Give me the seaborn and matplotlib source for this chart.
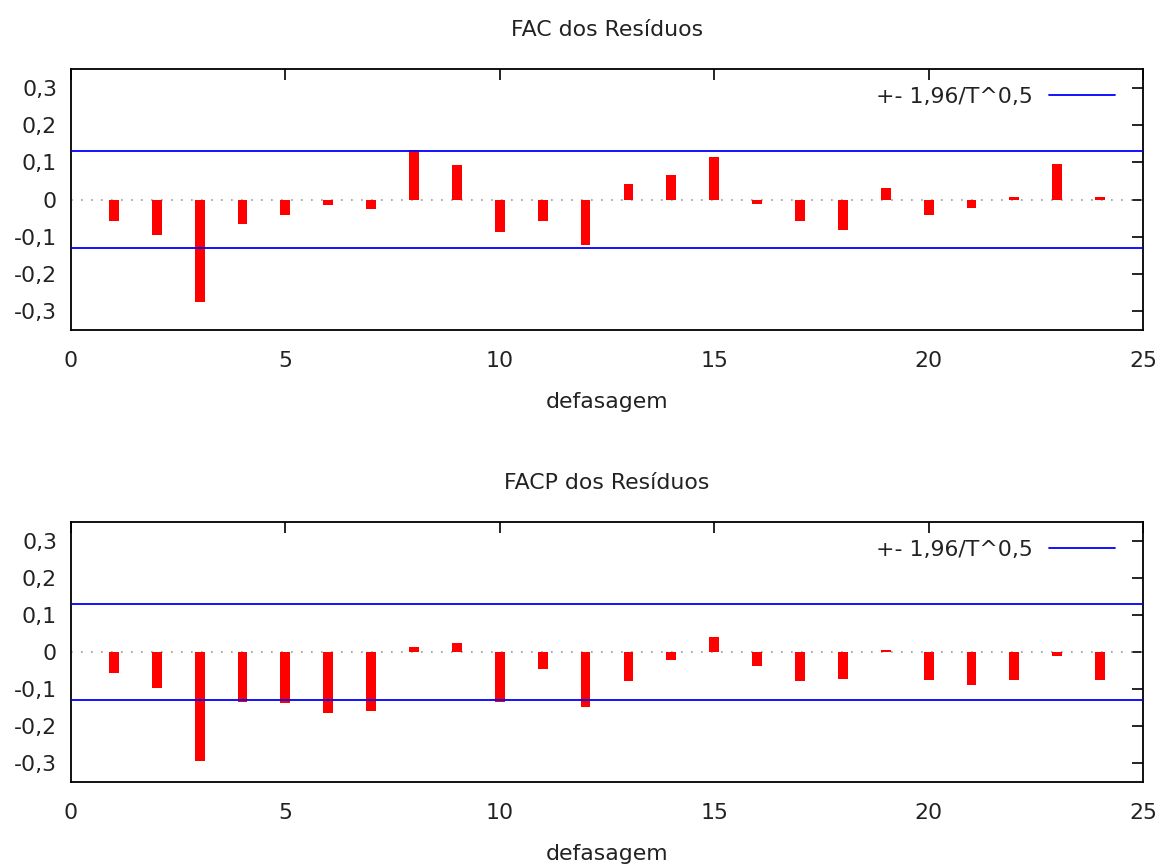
import matplotlib
matplotlib.use("Agg")
import matplotlib.pyplot as plt
import seaborn as sns
import numpy as np
import pandas as pd
from matplotlib.ticker import FuncFormatter, MultipleLocator

lags = list(range(1, 25))
fac = [-0.057, -0.096, -0.276, -0.067, -0.041, -0.015, -0.026, 0.133, 0.092, -0.087,
       -0.057, -0.123, 0.041, 0.067, 0.114, -0.012, -0.058, -0.083, 0.032, -0.041,
       -0.022, 0.007, 0.097, 0.007]
facp = [-0.058, -0.097, -0.294, -0.135, -0.139, -0.165, -0.160, 0.014, 0.025, -0.135,
        -0.047, -0.150, -0.078, -0.022, 0.040, -0.037, -0.079, -0.072, 0.005, -0.077,
        -0.088, -0.077, -0.011, -0.077]
band = 0.13
titles = ["FAC dos Resíduos", "FACP dos Resíduos"]
xlabel = "defasagem"
legend_label = "+- 1,96/T^0,5"
xticks = [0, 5, 10, 15, 20, 25]
yticks = [-0.3, -0.2, -0.1, 0, 0.1, 0.2, 0.3]

sns.set_theme(style="white")
plt.rcParams['font.family'] = ['DejaVu Sans']

fig = plt.figure(figsize=(11.63, 8.66), dpi=100)
L, R = 71 / 1163, 1143 / 1163
ax1 = fig.add_axes([L, 1 - 330 / 866, R - L, (330 - 69) / 866])
ax2 = fig.add_axes([L, 1 - 782 / 866, R - L, (782 - 522) / 866])

def fmt(v, pos):
    if abs(v) < 1e-9:
        return "0"
    return ("%.1f" % v).replace(".", ",")

fs = 15.8
for ax, vals, title in [(ax1, fac, titles[0]), (ax2, facp, titles[1])]:
    df = pd.DataFrame({"lag": lags, "v": vals})
    ax.axhline(0, color="#999999", lw=1.2, ls=(0, (1, 5)), zorder=1)
    sns.barplot(data=df, x="lag", y="v", native_scale=True, width=0.23,
                color="#ff0000", saturation=1, edgecolor="none", linewidth=0, ax=ax, zorder=2)
    ax.axhline(band, color="#0000ff", lw=1.3, zorder=3, label=legend_label)
    ax.axhline(-band, color="#0000ff", lw=1.3, zorder=3)
    ax.set_xlim(0, 25)
    ax.set_ylim(-0.352, 0.352)
    ax.set_xticks(xticks)
    ax.set_yticks(yticks)
    ax.yaxis.set_major_formatter(FuncFormatter(fmt))
    ax.tick_params(direction="in", length=8, width=1.2, top=True, right=True,
                   labelsize=fs, colors="black", labelcolor="#222222", pad=10)
    ax.tick_params(axis="x", pad=15)
    for s in ax.spines.values():
        s.set_color("black")
        s.set_linewidth(1.3)
    ax.set_xlabel(xlabel, fontsize=fs, color="#222222", labelpad=15)
    ax.set_ylabel("")
    ax.set_title(title, fontsize=fs, color="#222222", pad=24)
    leg = ax.legend(loc="upper right", frameon=False, fontsize=fs, handlelength=3.0,
                    handletextpad=0.75, markerfirst=False, borderaxespad=0.4,
                    bbox_to_anchor=(0.99, 1.0))
    for t in leg.get_texts():
        t.set_color("#222222")

fig.savefig("out.png", dpi=100)
